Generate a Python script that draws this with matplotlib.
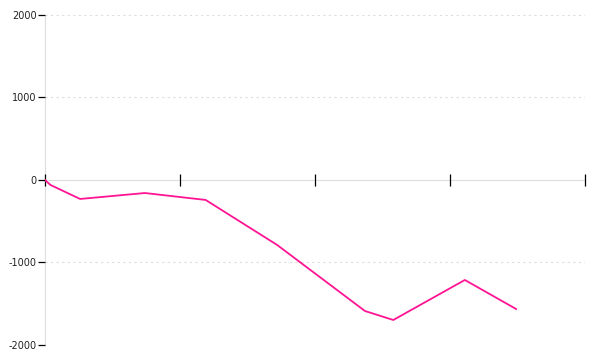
import matplotlib
matplotlib.use("Agg")
import matplotlib.pyplot as plt

plt.rcParams["axes.unicode_minus"] = False

# values (x in tick units, y in chart units)
x_vals = [0, 0.04, 0.26, 0.74, 1.19, 1.72, 2.37, 2.58, 3.11, 3.49]
y_vals = [0, -60, -230, -158, -242, -788, -1588, -1697, -1212, -1564]
y_ticks = [-2000, -1000, 0, 1000, 2000]
x_ticks = [0, 1, 2, 3, 4]

fig = plt.figure(figsize=(6, 3.6), dpi=100)
ax = fig.add_axes([0.075, 0.0417, 0.9, 0.9167])

ax.plot(x_vals, y_vals, color="#ff1493", linewidth=1.3, zorder=3)

ax.set_xlim(0, 4)
ax.set_ylim(-2000, 2000)
ax.set_yticks(y_ticks)
ax.set_xticks(x_ticks)
ax.set_xticklabels([])

# dotted horizontal grid
for yv in y_ticks:
    if yv != 0:
        ax.axhline(yv, color="#dddddd", linestyle=(0, (2, 3)), linewidth=0.8, zorder=0)

# x axis runs through zero
ax.spines["bottom"].set_position(("data", 0))
ax.spines["bottom"].set_color("#dddddd")
ax.spines["left"].set_color("#dddddd")
ax.spines["left"].set_zorder(1)
ax.spines["bottom"].set_zorder(1)
ax.spines["top"].set_visible(False)
ax.spines["right"].set_visible(False)

ax.tick_params(axis="x", direction="inout", length=8, width=0.9, color="black")
ax.tick_params(axis="y", direction="out", length=5, width=0.9, color="black",
               labelsize=7, labelcolor="#222222", pad=1)
for t in ax.xaxis.get_major_ticks():
    t.tick1line.set_clip_on(False)

fig.savefig("out.png", dpi=100)
